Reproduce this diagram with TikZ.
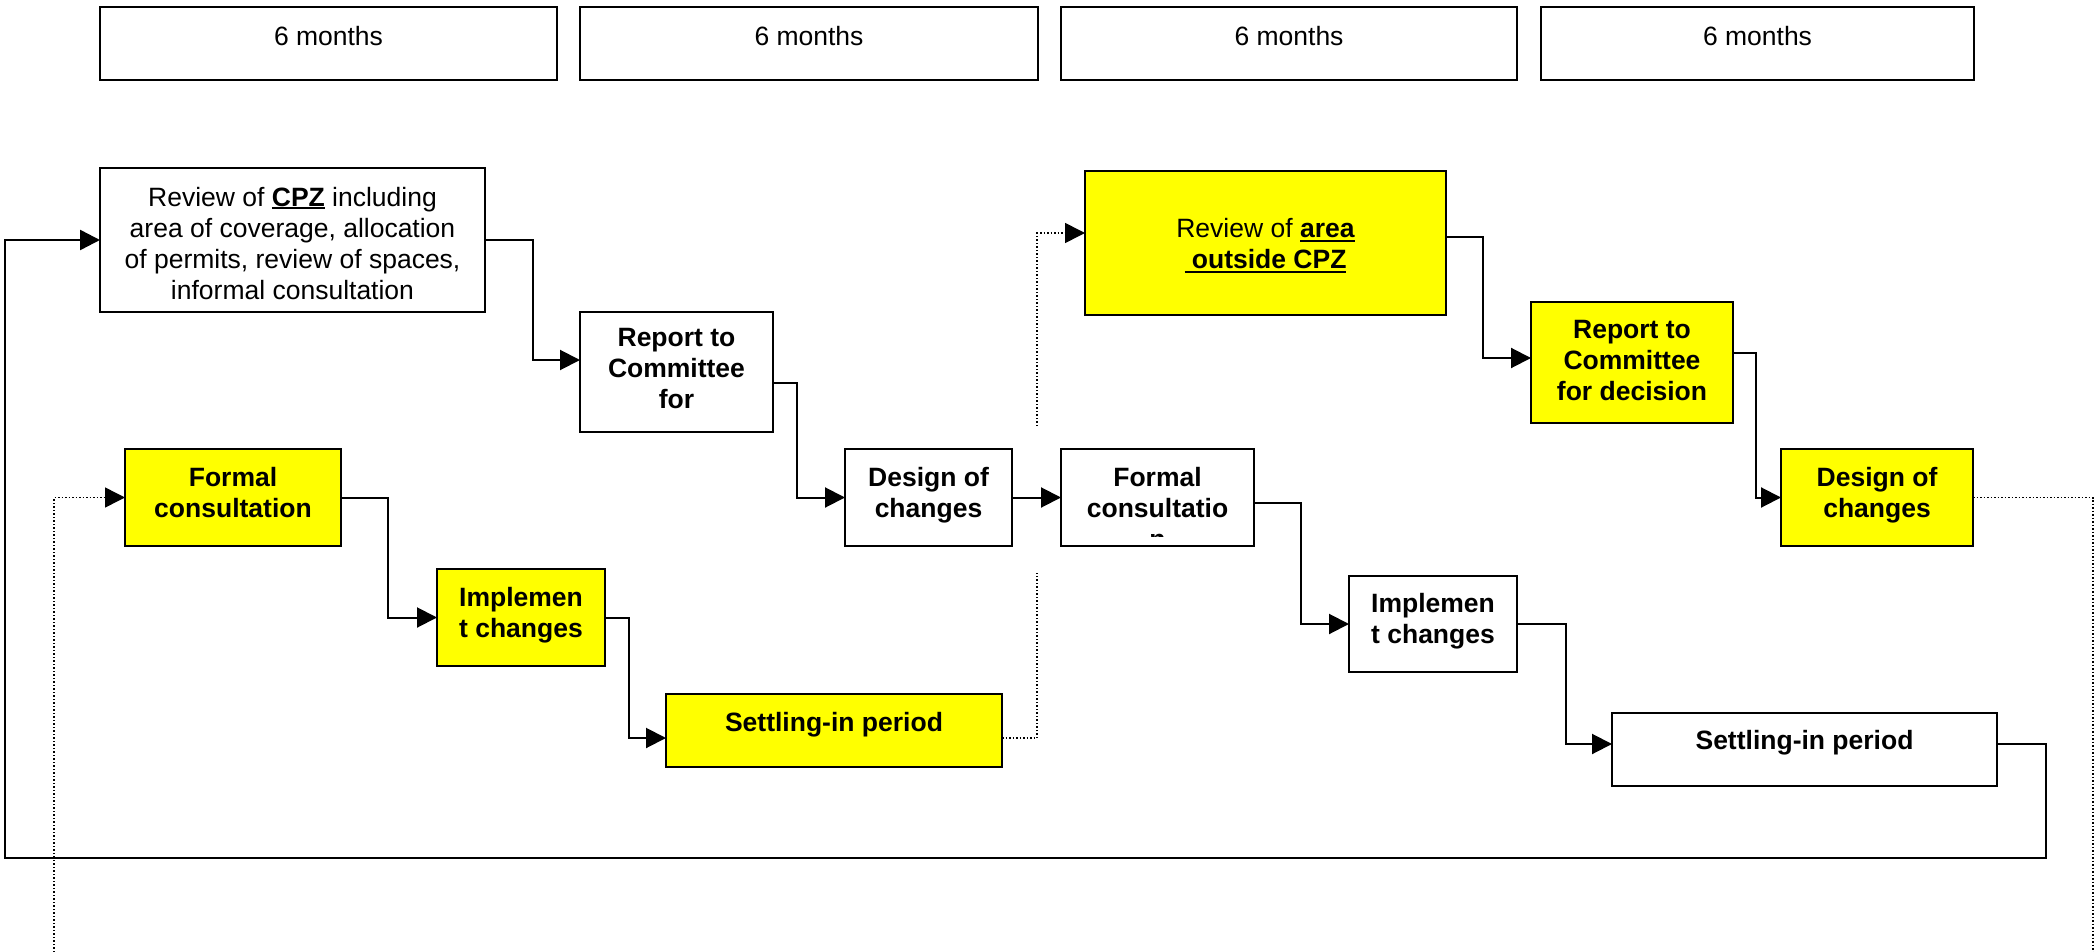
\documentclass[tikz,border=0pt]{standalone}
\usepackage{fontspec}
\setmainfont{Liberation Sans}
\usetikzlibrary{arrows.meta,calc}
\definecolor{yl}{RGB}{255,255,0}
\newsavebox\ulbox
\newcommand\myul[2][-3pt]{\sbox\ulbox{#2}\rlap{\rule[#1]{\wd\ulbox}{2.5pt}}\usebox\ulbox}
\begin{document}
\begin{tikzpicture}[x=1pt,y=-1pt,
  bx/.style={draw, line width=2pt, outer sep=0pt, inner sep=0pt, fill=white},
  yb/.style={bx, fill=yl},
  txt/.style={inner sep=0pt, align=center, font=\fontsize{26.5}{31}\selectfont},
  btxt/.style={txt, font=\fontsize{26.5}{31}\selectfont\bfseries},
  conn/.style={line width=2pt},
  arr/.style={conn, -{Triangle[length=20pt,width=20pt]}},
  dotl/.style={line width=1.5pt, dash pattern=on 1.5pt off 2pt},
  darr/.style={dotl, -{Triangle[length=20pt,width=20pt]}}]
\useasboundingbox (0,0) rectangle (2100,952);

% month boxes
\node[bx, minimum width=457, minimum height=73] (m1) at (328.5,43.5) {};
\node[bx, minimum width=458, minimum height=73] (m2) at (809,43.5) {};
\node[bx, minimum width=456, minimum height=73] (m3) at (1289,43.5) {};
\node[bx, minimum width=433, minimum height=73] (m4) at (1757.5,43.5) {};
\node[txt, anchor=north] (m1t) at ($(m1.north)+(0,19)$) {6 months};
\node[txt, anchor=north] (m2t) at ($(m2.north)+(0,19)$) {6 months};
\node[txt, anchor=north] (m3t) at ($(m3.north)+(0,19)$) {6 months};
\node[txt, anchor=north] (m4t) at ($(m4.north)+(0,19)$) {6 months};

% process boxes
\node[bx, minimum width=385, minimum height=144] (cpz) at (292.5,240) {};
\node[bx, minimum width=193, minimum height=120] (rep1) at (676.5,372) {};
\node[bx, minimum width=167, minimum height=97] (des1) at (928.5,497.5) {};
\node[yb, minimum width=216, minimum height=97] (fc1) at (233,497.5) {};
\node[yb, minimum width=168, minimum height=97] (imp1) at (521,617.5) {};
\node[yb, minimum width=336, minimum height=73] (set1) at (834,730.5) {};
\node[yb, minimum width=361, minimum height=144] (rev2) at (1265.5,243) {};
\node[yb, minimum width=202, minimum height=121] (rep2) at (1632,362.5) {};
\node[yb, minimum width=192, minimum height=97] (des2) at (1877,497.5) {};
\node[bx, minimum width=193, minimum height=97] (fc2) at (1157.5,497.5) {};
\node[bx, minimum width=168, minimum height=96] (imp2) at (1433,624) {};
\node[bx, minimum width=385, minimum height=73] (set2) at (1804.5,749.5) {};

% texts
\node[txt, anchor=north] (cpzt) at ($(cpz.north)+(0,19)$)
  {Review of \myul{\textbf{CPZ}} including\\area of coverage, allocation\\of permits, review of spaces,\\informal consultation};
\node[btxt, anchor=north] (rep1t) at ($(rep1.north)+(0,16)$) {Report to\\Committee\\for};
\node[btxt, anchor=north] (des1t) at ($(des1.north)+(0,18)$) {Design of\\changes};
\node[btxt, anchor=north] (fc1t) at ($(fc1.north)+(0,18)$) {Formal\\consultation};
\node[btxt, anchor=north] (imp1t) at ($(imp1.north)+(0,18)$) {Implemen\\t changes};
\node[btxt, anchor=north] (set1t) at ($(set1.north)+(0,18)$) {Settling-in period};
\node[txt, anchor=north] (rev2t) at ($(rev2.north)+(0,47)$)
  {Review of \myul[-5pt]{\textbf{area}}\\\myul[-5pt]{\textbf{\ outside CPZ}}};
\node[btxt, anchor=north] (rep2t) at ($(rep2.north)+(0,18)$) {Report to\\Committee\\for decision};
\node[btxt, anchor=north] (des2t) at ($(des2.north)+(0,18)$) {Design of\\changes};
\begin{scope}
\clip (fc2.north west) rectangle ($(fc2.south east)+(0,-10)$);
\node[btxt, anchor=north] (fc2t) at ($(fc2.north)+(0,18)$) {Formal\\consultatio\\n};
\end{scope}
\node[btxt, anchor=north] (imp2t) at ($(imp2.north)+(0,17)$) {Implemen\\t changes};
\node[btxt, anchor=north] (set2t) at ($(set2.north)+(0,17)$) {Settling-in period};

% connectors
\coordinate (loopbl) at (5,858);
\coordinate (gapA) at (1037,573);
\coordinate (gapB) at (1037,426);
\coordinate (lb) at (54,952);
\coordinate (rb) at (2093,952);

\draw[arr] (cpz.east) -- ++(48,0) |- ($(rep1.west)+(0,-12)$);
\draw[arr] ($(rep1.east)+(0,11)$) -- ++(24,0) |- (des1.west);
\draw[arr] (des1.east) -- (fc2.west);
\draw[arr] ($(fc2.east)+(0,5)$) -- ++(47,0) |- (imp2.west);
\draw[arr] (imp2.east) -- ++(49,0) |- ($(set2.west)+(0,-5.5)$);
\draw[arr, line width=2.5pt] ($(set2.east)+(0,-5.5)$) -- ++(49,0) |- (loopbl) |- (cpz.west);
\draw[arr] (fc1.east) -- ++(47,0) |- (imp1.west);
\draw[arr] (imp1.east) -- ++(24,0) |- ($(set1.west)+(0,7.5)$);
\draw[arr] ($(rev2.east)+(0,-6)$) -- ++(37,0) |- ($(rep2.west)+(0,-4.5)$);
\draw[arr] ($(rep2.east)+(0,-9.5)$) -- ++(23,0) |- (des2.west);

\draw[darr] ($(set1.east)+(0,7.5)$) -| (gapA) (gapB) |- ($(rev2.west)+(0,-10)$);
\draw[darr] (lb) |- (fc1.west);
\draw[dotl] (des2.east) -| (rb);
\end{tikzpicture}
\end{document}
